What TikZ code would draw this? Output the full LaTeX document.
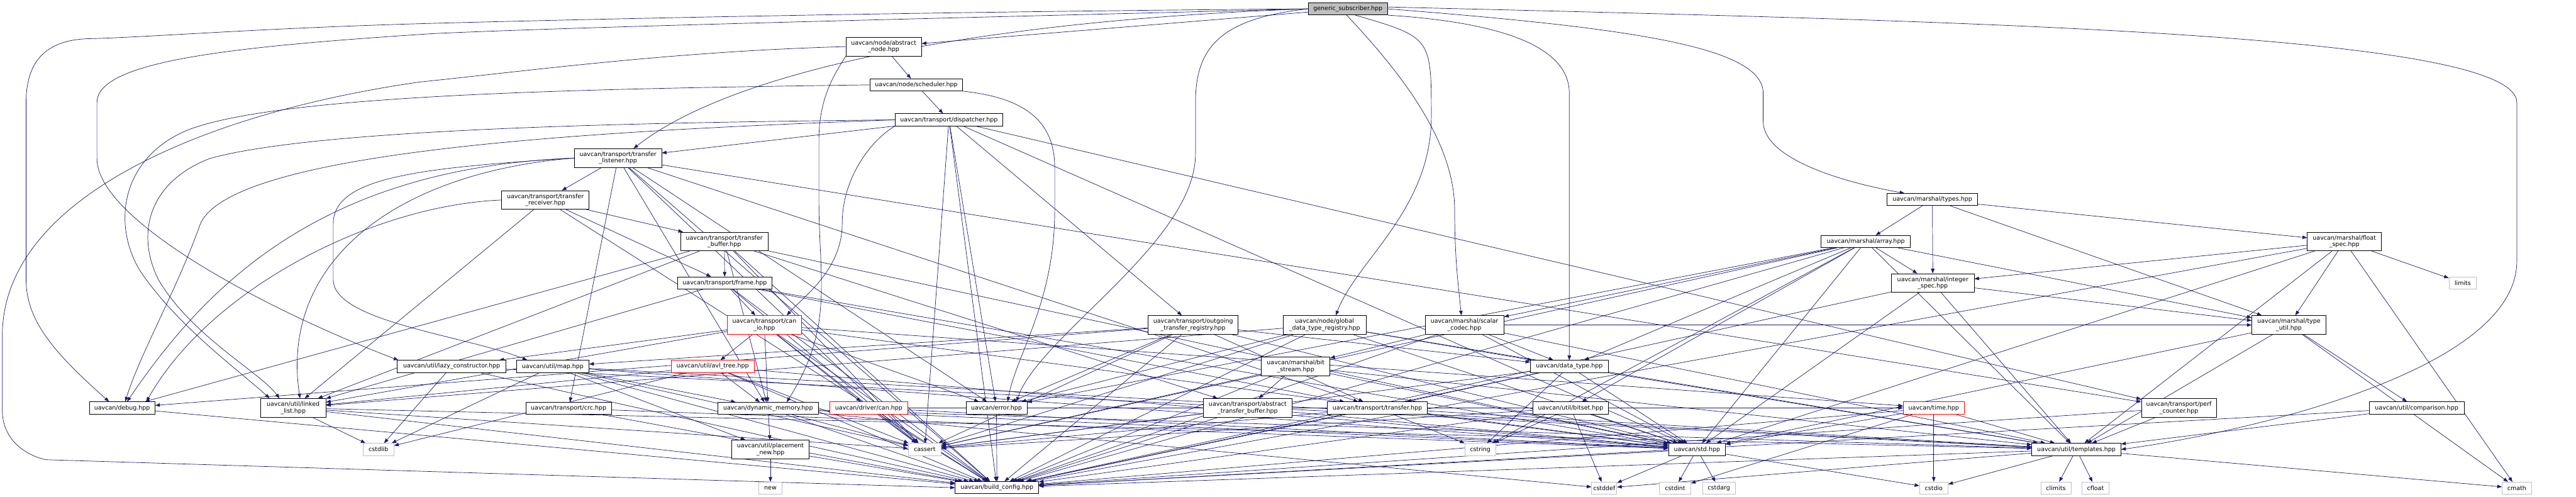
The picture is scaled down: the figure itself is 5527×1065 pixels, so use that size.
\documentclass[tikz,border=0pt]{standalone}
\usepackage{fontspec}
\newfontfamily\dv{DejaVu Sans}
\usetikzlibrary{arrows.meta}
\pgfdeclarelayer{bg}
\pgfsetlayers{bg,main}
\definecolor{edgeblue}{HTML}{191970}
\definecolor{gsfill}{HTML}{BFBFBF}
\definecolor{extgray}{HTML}{BFBFBF}
\definecolor{trunc}{HTML}{FF0000}
\tikzset{
  nb/.style={draw=black, fill=white, line width=0.8pt, inner sep=0pt, minimum height=19.5pt, align=center, font=\dv\fontsize{9.6}{10.6}\selectfont},
  nbb/.style={nb, minimum height=30pt},
  rn/.style={draw=trunc},
  xn/.style={draw=extgray},
  edg/.style={draw=edgeblue, line width=0.7pt, -{Triangle[length=7.5pt,width=5.6pt]}},
}
\begin{document}
\begin{tikzpicture}[x=0.75pt,y=-0.75pt]
\useasboundingbox (0,0) rectangle (5527,1065);
% nodes
\node[nb, fill=gsfill, minimum width=128.25pt] (GS) at (2892,19) {generic\_subscriber.hpp};
\node[nbb, minimum width=121.5pt] (AN) at (1896,100) {uavcan/node/abstract\\\_node.hpp};
\node[nb, minimum width=149.25pt] (SCH) at (1966,182) {uavcan/node/scheduler.hpp};
\node[nb, minimum width=173.25pt] (DIS) at (2036,257) {uavcan/transport/dispatcher.hpp};
\node[nbb, minimum width=140.25pt] (TL) at (1326,339) {uavcan/transport/transfer\\\_listener.hpp};
\node[nbb, minimum width=140.25pt] (TR) at (1170,429) {uavcan/transport/transfer\\\_receiver.hpp};
\node[nbb, minimum width=140.25pt] (TB) at (1554,518) {uavcan/transport/transfer\\\_buffer.hpp};
\node[nb, minimum width=152.25pt] (FR) at (1555,607) {uavcan/transport/frame.hpp};
\node[nbb, rn, minimum width=119.25pt] (CIO) at (1640,697) {uavcan/transport/can\\\_io.hpp};
\node[nb, minimum width=174.75pt] (LC) at (969,786) {uavcan/util/lazy\_constructor.hpp};
\node[nb, minimum width=116.25pt] (MAP) at (1186,786) {uavcan/util/map.hpp};
\node[nb, rn, minimum width=133.5pt] (AVL) at (1529,786) {uavcan/util/avl\_tree.hpp};
\node[nb, minimum width=137.25pt] (CRC) at (1220,876) {uavcan/transport/crc.hpp};
\node[nb, minimum width=162.75pt] (DM) at (1648,876) {uavcan/dynamic\_memory.hpp};
\node[nbb, minimum width=124.5pt] (PN) at (1653,964) {uavcan/util/placement\\\_new.hpp};
\node[nb, xn, minimum width=36.75pt] (NEW) at (1653,1047) {new};
\node[nb, minimum width=105.75pt] (DBG) at (262,875) {uavcan/debug.hpp};
\node[nbb, minimum width=105pt] (LL) at (629,875) {uavcan/util/linked\\\_list.hpp};
\node[nb, xn, minimum width=49.5pt] (CSTDLIB) at (812,964) {cstdlib};
\node[nb, minimum width=134.25pt] (BC) at (2139,1046) {uavcan/build\_config.hpp};
\node[nb, xn, minimum width=52.5pt] (CASSERT) at (1984,964) {cassert};
\node[nb, minimum width=98.25pt] (ERR) at (2138,875) {uavcan/error.hpp};
\node[nb, rn, minimum width=125.25pt] (DRV) at (1864,875) {uavcan/driver/can.hpp};
\node[nbb, minimum width=144.75pt] (OTR) at (2560,697) {uavcan/transport/outgoing\\\_transfer\_registry.hpp};
\node[nbb, minimum width=141.75pt] (ATB) at (2677,875) {uavcan/transport/abstract\\\_transfer\_buffer.hpp};
\node[nbb, minimum width=110.25pt] (BS) at (2780,786) {uavcan/marshal/bit\\\_stream.hpp};
\node[nbb, minimum width=133.5pt] (GDTR) at (2842,697) {uavcan/node/global\\\_data\_type\_registry.hpp};
\node[nbb, minimum width=126.75pt] (SC) at (3142,697) {uavcan/marshal/scalar\\\_codec.hpp};
\node[nb, minimum width=125.25pt] (DT) at (3367,786) {uavcan/data\_type.hpp};
\node[nb, minimum width=161.25pt] (TRF) at (2955,875) {uavcan/transport/transfer.hpp};
\node[nb, minimum width=121.5pt] (BIT) at (3370,875) {uavcan/util/bitset.hpp};
\node[nb, xn, minimum width=50.25pt] (CSTRING) at (3176,964) {cstring};
\node[nb, xn, minimum width=40.5pt] (CSTDDEF) at (3442,1047) {cstddef};
\node[nb, xn, minimum width=50.25pt] (CSTDINT) at (3594,1047) {cstdint};
\node[nb, minimum width=91.5pt] (STD) at (3641,964) {uavcan/std.hpp};
\node[nb, minimum width=143.25pt] (TPL) at (4455,964) {uavcan/util/templates.hpp};
\node[nb, xn, minimum width=52.5pt] (CSTDARG) at (3688,1047) {cstdarg};
\node[nb, rn, minimum width=98.25pt] (TIME) at (4149,875) {uavcan/time.hpp};
\node[nb, xn, minimum width=45.75pt] (CSTDIO) at (4149,1047) {cstdio};
\node[nb, xn, minimum width=48.75pt] (CLIMITS) at (4411,1047) {climits};
\node[nb, xn, minimum width=43.5pt] (CFLOAT) at (4496,1047) {cfloat};
\node[nbb, minimum width=132.75pt] (IS) at (4147,607) {uavcan/marshal/integer\\\_spec.hpp};
\node[nb, minimum width=143.25pt] (ARR) at (4003,518) {uavcan/marshal/array.hpp};
\node[nb, minimum width=145.5pt] (TYP) at (4146,428) {uavcan/marshal/types.hpp};
\node[nbb, minimum width=119.25pt] (FS) at (5030,518) {uavcan/marshal/float\\\_spec.hpp};
\node[nb, xn, minimum width=44.25pt] (LIM) at (5284,607) {limits};
\node[nbb, minimum width=119.25pt] (TU) at (4911,697) {uavcan/marshal/type\\\_util.hpp};
\node[nbb, minimum width=120.75pt] (PC) at (4675,875) {uavcan/transport/perf\\\_counter.hpp};
\node[nb, minimum width=153pt] (CMP) at (5185,875) {uavcan/util/comparison.hpp};
\node[nb, xn, minimum width=47.25pt] (CMATH) at (5400,1047) {cmath};
\begin{pgfonlayer}{bg}
\fill[white] (0,0) rectangle (5527,1065);
\foreach \a/\b in {GS/AN, AN/SCH, SCH/DIS, DIS/TL, TL/TR, TR/TB, TR/FR, TB/FR, FR/CIO,
  CIO/AVL, CIO/DM, CIO/LC, CIO/LL, CIO/DRV, CIO/ERR, CIO/CASSERT, CIO/STD, CIO/TIME, CIO/BC,
  TL/CRC, TL/DM, TL/BC, TL/CASSERT, TL/PC, TL/TRF, TL/ERR,
  TR/LL, TR/BC,
  TB/DM, TB/ATB, TB/LL, TB/DBG, TB/BC, TB/CASSERT, TB/STD,
  FR/TRF, FR/CASSERT, FR/BC, FR/STD, FR/LL,
  DIS/CASSERT, DIS/ERR, DIS/OTR, DIS/STD, DIS/PC, DIS/BC,
  LC/CSTDLIB, LC/BC, LC/TPL,
  MAP/CSTDLIB, MAP/DM, MAP/PN, MAP/BC, MAP/TPL, MAP/CASSERT, MAP/STD,
  AVL/LL, AVL/DM, AVL/CSTDLIB, AVL/BC, AVL/CASSERT, AVL/STD,
  CRC/BC, CRC/STD,
  DM/PN, DM/CASSERT, DM/STD, DM/TPL, DM/BC, DM/CSTDDEF,
  DBG/BC,
  LL/CSTDLIB, LL/BC, LL/CASSERT, LL/TPL,
  PN/NEW, PN/BC,
  ERR/BC,
  DRV/CASSERT, DRV/BC, DRV/STD, DRV/TIME,
  OTR/MAP, OTR/DBG, OTR/CASSERT, OTR/ERR, OTR/BC, OTR/DT, OTR/TRF, OTR/STD,
  ATB/BC, ATB/CASSERT, ATB/STD,
  BS/ATB, BS/BC, BS/STD, BS/TPL, BS/CASSERT,
  GDTR/DT, GDTR/ERR, GDTR/LL, GDTR/STD, GDTR/BC, GDTR/CASSERT, GDTR/TPL,
  SC/BS, SC/DT, SC/TPL, SC/STD, SC/BC, SC/TU,
  DT/TRF, DT/CSTRING, DT/CASSERT, DT/STD, DT/BC, DT/TPL,
  TRF/BC, TRF/CASSERT, TRF/STD, TRF/CSTRING, TRF/TPL,
  BIT/CSTRING, BIT/CSTDDEF, BIT/BC, BIT/STD, BIT/CASSERT,
  STD/CSTDINT, STD/CSTDARG, STD/CSTDIO, STD/CSTDDEF, STD/BC,
  TPL/CLIMITS, TPL/CFLOAT, TPL/CMATH, TPL/BC, TPL/CSTDDEF, TPL/CSTDIO,
  TIME/CSTDIO, TIME/STD, TIME/TPL, TIME/BC, TIME/CSTDINT,
  IS/TPL, IS/STD, IS/BC, IS/TU,
  ARR/IS, ARR/SC, ARR/DT, ARR/BIT, ARR/TPL, ARR/STD, ARR/BC, ARR/ERR, ARR/TU, ARR/CSTRING, ARR/CASSERT,
  TYP/ARR, TYP/IS, TYP/FS, TYP/TU,
  FS/IS, FS/TU, FS/LIM, FS/CMATH, FS/TPL, FS/STD, FS/BC,
  TU/CMP, TU/TPL, TU/STD, TU/CMATH,
  PC/TPL, PC/BC,
  CMP/TPL, CMP/BC}
  \draw[edg] (\a) -- (\b);
% routed edges
\draw[edg] (GS.west) .. controls (2200,40) and (1600,130) .. ([xshift=25pt]TL.north);
\draw[edg] (GS.west) .. controls (2000,25) and (1300,40) .. (930,50) .. controls (560,60) and (320,80) .. (190,83) .. controls (90,86) and (56,140) .. (56,220) -- (56,600) .. controls (56,690) and (120,760) .. ([xshift=-21pt]DBG.north);
\draw[edg] (GS.west) .. controls (2200,35) and (1300,55) .. (930,72) .. controls (500,100) and (208,130) .. (208,220) -- (208,340) .. controls (208,470) and (560,660) .. ([xshift=2pt]LC.north west);
\draw[edg] (AN.west) .. controls (1450,110) and (1150,150) .. (900,176) .. controls (450,240) and (5,420) .. (5,720) -- (5,880) .. controls (5,940) and (50,975) .. (98,986) -- (BC.west);
\draw[edg] (AN.south west) .. controls (1790,160) and (1757,210) .. (1757,300) -- (1757,430) .. controls (1757,600) and (1790,700) .. ([xshift=30pt]DM.north);
\draw[edg] (SCH.west) .. controls (1300,190) and (600,200) .. (400,280) .. controls (260,340) and (240,480) .. (300,580) .. controls (380,700) and (520,800) .. ([xshift=-38pt]LL.north);
\draw[edg] (SCH.south east) .. controls (2200,210) and (2263,260) .. (2263,360) -- (2263,450) .. controls (2263,650) and (2180,760) .. ([xshift=18pt]ERR.north);
\draw[edg] (DIS.west) .. controls (1500,262) and (700,270) .. (450,340) .. controls (320,390) and (290,500) .. (340,600) .. controls (410,720) and (560,800) .. ([xshift=-22pt]LL.north);
\draw[edg] (DIS.south west) .. controls (1870,300) and (1807,380) .. (1807,480) .. controls (1807,580) and (1720,640) .. ([xshift=36pt]CIO.north);
\draw[edg] (DIS.west) .. controls (1300,280) and (500,320) .. (430,480) .. controls (380,620) and (300,760) .. ([xshift=5pt]DBG.north);
\draw[edg] (GS.west) .. controls (2620,40) and (2565,100) .. (2565,220) -- (2565,330) .. controls (2565,520) and (2230,720) .. ([xshift=32pt]ERR.north);
\draw[edg] ([xshift=12pt]GS.south) .. controls (3071,80) .. (3071,250) .. controls (3071,450) and (2910,560) .. ([xshift=18pt]GDTR.north);
\draw[edg] ([xshift=-2pt]GS.south) .. controls (3000,150) and (3121,300) .. (3121,450) .. controls (3121,560) and (3130,620) .. ([xshift=-5pt]SC.north);
\draw[edg] (GS.south east) .. controls (3250,50) and (3367,110) .. (3367,200) -- (DT.north);
\draw[edg] (GS.east) .. controls (3500,60) and (3783,100) .. (3783,200) -- (3783,260) .. controls (3783,340) and (3950,390) .. ([xshift=-45pt]TYP.north);
\draw[edg] ([yshift=3pt]GS.east) .. controls (4200,45) and (5400,70) .. (5400,220) -- (5400,560) .. controls (5400,800) and (4800,930) .. (TPL.east);
\draw[edg] (TL.west) .. controls (900,360) and (715,380) .. (715,480) -- (715,600) .. controls (715,690) and (1000,720) .. ([xshift=-41pt]MAP.north);
\draw[edg] (TL.west) .. controls (850,370) and (600,560) .. ([xshift=11pt]LL.north);
\draw[edg] (TL.west) .. controls (700,360) and (450,600) .. ([xshift=8pt]DBG.north);
\draw[edg] (TR.west) .. controls (800,440) and (450,620) .. ([xshift=39pt]DBG.north);
\end{pgfonlayer}
\end{tikzpicture}
\end{document}
